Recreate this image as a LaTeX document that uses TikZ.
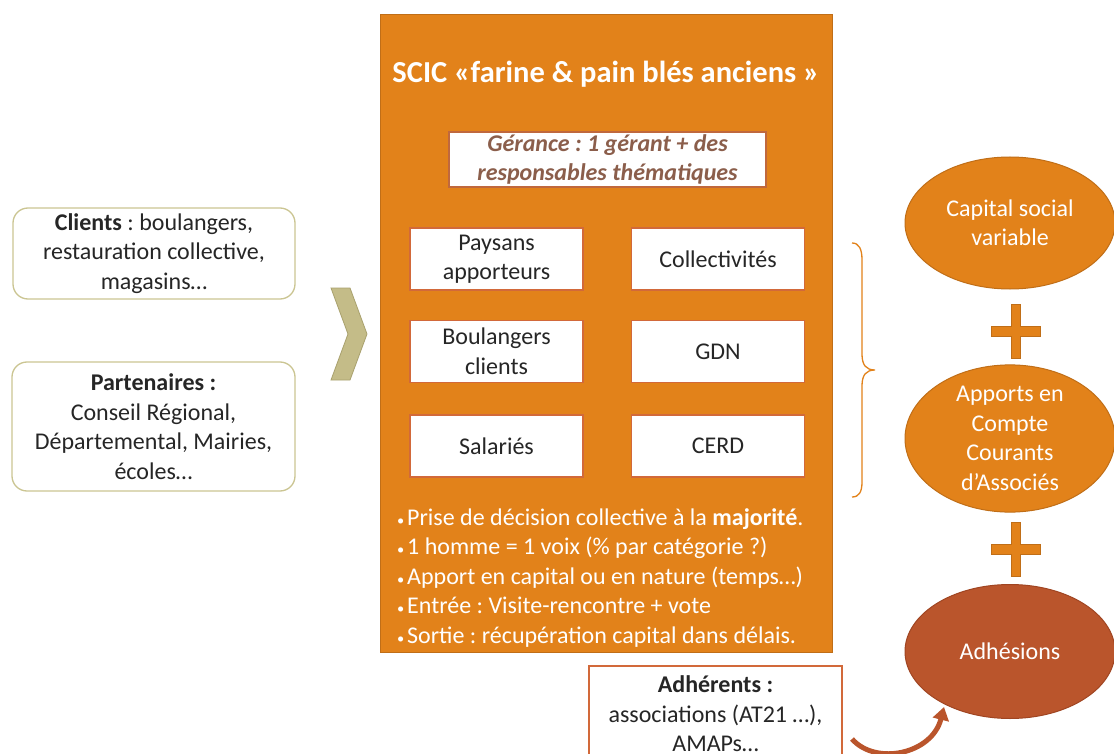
\documentclass[tikz,border=0pt]{standalone}
\usepackage{fontspec}
\usepackage{graphicx}
\setmainfont{Carlito}
\frenchspacing
\usetikzlibrary{shapes.geometric,arrows.meta}
\definecolor{org}{HTML}{E2821A}
\definecolor{orgdark}{HTML}{C06E17}
\definecolor{adhcol}{HTML}{BA552C}
\definecolor{adhdark}{HTML}{A04522}
\definecolor{tanb}{HTML}{CBC592}
\definecolor{chev}{HTML}{C4BC88}
\definecolor{chevb}{HTML}{A9A16E}
\definecolor{boxb}{HTML}{D2693A}
\definecolor{gerb}{HTML}{C0683D}
\definecolor{gert}{HTML}{8B5E4B}
\definecolor{txt}{HTML}{262626}
\newcommand\bodyf{\fontsize{24}{29.5}\selectfont}
\newcommand\titlef{\fontsize{30.5}{36}\selectfont\bfseries}
\newcommand\blt{\makebox[10pt][l]{\scalebox{0.6}{\textbullet}}}
\tikzset{
  lbox/.style={draw=tanb, line width=1.3pt, rounded corners=15pt, fill=white, align=center, font=\bodyf, text=txt, inner sep=0pt},
  ibox/.style={draw=boxb, line width=1.2pt, fill=white, minimum width=173pt, minimum height=62pt, align=center, font=\bodyf, text=txt, inner sep=0pt},
  ell/.style={ellipse, draw=orgdark, line width=1pt, fill=org, minimum width=210pt, minimum height=132pt, align=center, text=white, font=\bodyf, inner sep=0pt},
  plussign/.pic={\draw[draw=orgdark, fill=org, line width=1pt] (-24.5,-5) -- (-4.5,-5) -- (-4.5,-27) -- (4.5,-27) -- (4.5,-5) -- (24.5,-5) -- (24.5,5) -- (4.5,5) -- (4.5,27) -- (-4.5,27) -- (-4.5,5) -- (-24.5,5) -- cycle;}
}
\begin{document}
\begin{tikzpicture}[x=1pt,y=-1pt]
\useasboundingbox[fill=white] (0,0) rectangle (1114,754);

% left boxes
\node[lbox, minimum width=282pt, minimum height=91pt] (clients) at (154,253.5)
  {\textbf{Clients} : boulangers,\\restauration collective,\\magasins…};
\node[lbox, minimum width=283pt, minimum height=129pt] (part) at (153.5,426.5)
  {\textbf{Partenaires :}\\Conseil Régional,\\Départemental, Mairies,\\écoles…};

% chevron
\draw[fill=chev, draw=chevb, line width=0.8pt] (331,288) -- (350,288) -- (367,334) -- (350,380) -- (331,380) -- (348,334) -- cycle;

% main SCIC block
\node[draw=orgdark, fill=org, line width=1pt, minimum width=452pt, minimum height=637pt, inner sep=0pt] (scic) at (606,333.5) {};
\node[text=white, font=\titlef, inner sep=0pt] (title) at (606,74) {SCIC «farine \& pain blés anciens »};
\node[draw=gerb, line width=1.2pt, fill=white, minimum width=317pt, minimum height=55pt, inner sep=0pt, align=center, text=gert, font=\bodyf\bfseries\itshape] (ger) at (607.5,159.5)
  {Gérance : 1 gérant + des\\responsables thématiques};

\node[ibox] (pay) at (496.5,259) {Paysans\\apporteurs};
\node[ibox] (col) at (718,259) {Collectivités};
\node[ibox] (bou) at (496.5,351.5) {Boulangers\\clients};
\node[ibox] (gdn) at (718,351.5) {GDN};
\node[ibox] (sal) at (496.5,446) {Salariés};
\node[ibox] (cerd) at (718,446) {CERD};

\node[anchor=base west, align=left, text=white, font=\bodyf, inner sep=0pt] (bul) at (397,643)
  {\blt Prise de décision collective à la \textbf{majorité}.\\
   \blt 1 homme = 1 voix (\% par catégorie ?)\\
   \blt Apport en capital ou en nature (temps…)\\
   \blt Entrée : Visite-rencontre + vote\\
   \blt Sortie : récupération capital dans délais.};

% brace
\draw[org, line width=1.3pt] (852,243) .. controls (859,243) and (862,249) .. (862,260) -- (862,354) .. controls (862,365) and (866,370) .. (875,370) .. controls (866,370) and (862,375) .. (862,386) -- (862,482) .. controls (862,492) and (859,497) .. (852,497);

% ellipses
\node[ell] (cap) at (1010,223) {Capital social\\variable};
\pic at (1015.5,331) {plussign};
\node[ell] (app) at (1010,438.5) {Apports en\\Compte\\Courants\\d’Associés};
\pic at (1015.5,549) {plussign};
\node[ell, fill=adhcol, draw=adhdark, minimum height=134pt] (adh) at (1010,651.5) {Adhésions};

% adherents box
\node[draw=boxb, line width=1.2pt, fill=white, minimum width=253pt, minimum height=96pt, inner sep=0pt, align=center, text=txt, font=\bodyf] (adr) at (715.5,714)
  {\textbf{Adhérents :}\\associations (AT21 …),\\AMAPs…};

% curved arrow
\coordinate (a0) at (852,739);
\coordinate (a1) at (944,707);
\draw[adhcol, line width=5pt, -{Triangle[length=13pt,width=16pt]}] (a0) .. controls (876,766) and (932,754) .. (a1);
\end{tikzpicture}
\end{document}
